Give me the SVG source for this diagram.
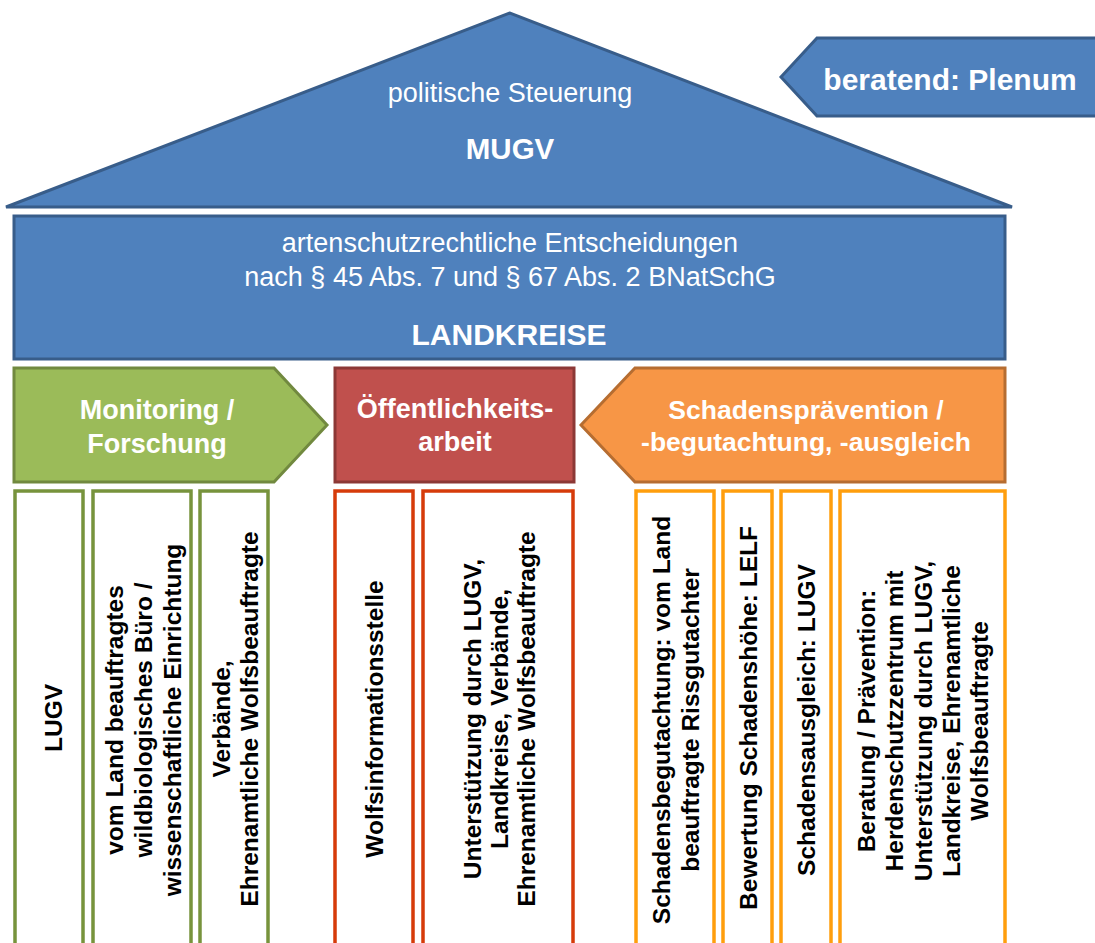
<svg xmlns="http://www.w3.org/2000/svg" width="1095" height="943" viewBox="0 0 1095 943">
<style>
.t{font-family:"Liberation Sans",Arial,sans-serif;fill:#fff;text-anchor:middle}
.b{font-weight:bold}
.blue{fill:#4F81BD;stroke:#385D8A;stroke-width:3}
.v{font-family:"Liberation Sans",Arial,sans-serif;font-weight:bold;font-size:24.5px;fill:#000;text-anchor:middle}
.cg{fill:#fff;stroke:#77933C;stroke-width:3.5}
.cr{fill:#fff;stroke:#D63B0A;stroke-width:3.5}
.co{fill:#fff;stroke:#FF9E0D;stroke-width:3.5}
</style>
<rect width="1095" height="943" fill="#fff"/>
<g id="roof">
<polygon class="blue" points="510,13 6,207 1012,207"/>
<text class="t" x="510" y="102" font-size="27">politische Steuerung</text>
<text class="t b" x="510" y="159" font-size="29.5">MUGV</text>
</g>
<g id="plenum">
<polygon class="blue" points="781,77 817,38 1100,38 1100,116 817,116"/>
<text class="t b" x="950" y="90" font-size="30">beratend: Plenum</text>
</g>
<g id="landkreise">
<rect class="blue" x="14" y="216" width="991" height="143"/>
<text class="t" x="510" y="252" font-size="27">artenschutzrechtliche Entscheidungen</text>
<text class="t" x="510" y="286" font-size="27">nach § 45 Abs. 7 und § 67 Abs. 2 BNatSchG</text>
<text class="t b" x="509" y="345" font-size="30">LANDKREISE</text>
</g>
<g id="monitoring">
<polygon points="14,368 274,368 327,425 274,482 14,482" fill="#9BBB59" stroke="#71893F" stroke-width="3"/>
<text class="t b" x="157" y="419" font-size="27">Monitoring /</text>
<text class="t b" x="157" y="453" font-size="27">Forschung</text>
</g>
<g id="oeffentlichkeit">
<rect x="335" y="368" width="239" height="114" fill="#C0504D" stroke="#8C3836" stroke-width="3"/>
<text class="t b" x="455" y="418" font-size="27">Öffentlichkeits-</text>
<text class="t b" x="455" y="451" font-size="27">arbeit</text>
</g>
<g id="schaden">
<polygon points="581,425 635,368 1005,368 1005,482 635,482" fill="#F79646" stroke="#B66D31" stroke-width="3"/>
<text class="t b" x="806" y="419" font-size="26.5">Schadensprävention /</text>
<text class="t b" x="806" y="451" font-size="26.5">-begutachtung, -ausgleich</text>
</g>
<g id="col-lugv">
<rect class="cg" x="15" y="491" width="68" height="470"/>
<text class="v" transform="translate(62,718) rotate(-90)" font-size="28">LUGV</text>
</g>
<g id="col-buero">
<rect class="cg" x="93" y="491" width="98" height="470"/>
<g transform="translate(0,720)">
<text class="v" transform="translate(123,0) rotate(-90)">vom Land beauftragtes</text>
<text class="v" transform="translate(152,0) rotate(-90)">wildbiologisches Büro /</text>
<text class="v" transform="translate(181,0) rotate(-90)">wissenschaftliche Einrichtung</text>
</g>
</g>
<g id="col-verbaende">
<rect class="cg" x="200" y="491" width="68" height="470"/>
<g transform="translate(0,719)">
<text class="v" transform="translate(230,0) rotate(-90)">Verbände,</text>
<text class="v" transform="translate(258,0) rotate(-90)">Ehrenamtliche Wolfsbeauftragte</text>
</g>
</g>
<g id="col-wolfsinfo">
<rect class="cr" x="335" y="491" width="78" height="470"/>
<text class="v" transform="translate(383,719) rotate(-90)">Wolfsinformationsstelle</text>
</g>
<g id="col-unterstuetzung">
<rect class="cr" x="423" y="491" width="150" height="470"/>
<g transform="translate(0,719)">
<text class="v" transform="translate(481,0) rotate(-90)">Unterstützung durch LUGV,</text>
<text class="v" transform="translate(508,0) rotate(-90)">Landkreise, Verbände,</text>
<text class="v" transform="translate(535,0) rotate(-90)">Ehrenamtliche Wolfsbeauftragte</text>
</g>
</g>
<g id="col-begutachtung">
<rect class="co" x="636" y="491" width="78" height="470"/>
<g transform="translate(0,720)">
<text class="v" transform="translate(670,0) rotate(-90)">Schadensbegutachtung: vom Land</text>
<text class="v" transform="translate(699,0) rotate(-90)">beauftragte Rissgutachter</text>
</g>
</g>
<g id="col-bewertung">
<rect class="co" x="723" y="491" width="49" height="470"/>
<text class="v" transform="translate(757,718) rotate(-90)">Bewertung Schadenshöhe: LELF</text>
</g>
<g id="col-ausgleich">
<rect class="co" x="781" y="491" width="50" height="470"/>
<text class="v" transform="translate(815,720) rotate(-90)">Schadensausgleich: LUGV</text>
</g>
<g id="col-beratung">
<rect class="co" x="840" y="491" width="165" height="470"/>
<g transform="translate(0,721)">
<text class="v" transform="translate(875,0) rotate(-90)">Beratung / Prävention:</text>
<text class="v" transform="translate(903,0) rotate(-90)">Herdenschutzzentrum mit</text>
<text class="v" transform="translate(932,0) rotate(-90)">Unterstützung durch LUGV,</text>
<text class="v" transform="translate(960,0) rotate(-90)">Landkreise, Ehrenamtliche</text>
<text class="v" transform="translate(988,0) rotate(-90)">Wolfsbeauftragte</text>
</g>
</g>
<g id="connectors"></g>
</svg>
